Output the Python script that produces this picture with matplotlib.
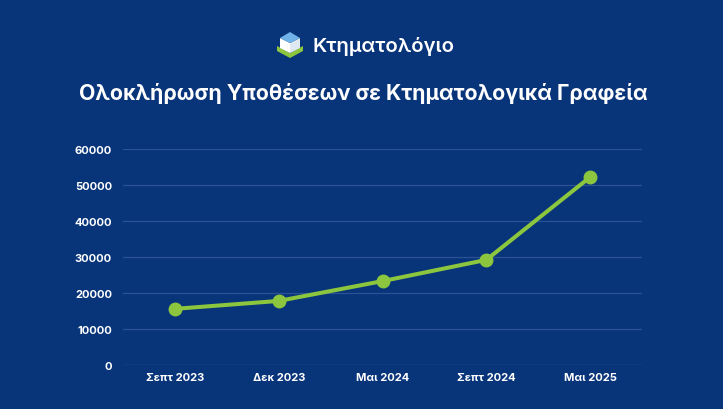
import matplotlib.pyplot as plt
from matplotlib.patches import Polygon, Rectangle

# ------------------ DATA ------------------
periods = ["Σεπτ 2023", "Δεκ 2023", "Μαι 2024", "Σεπτ 2024", "Μαι 2025"]
cases = [15600, 17800, 23300, 29200, 52200]
yticks = [0, 10000, 20000, 30000, 40000, 50000, 60000]

title = "Ολοκλήρωση Υποθέσεων σε Κτηματολογικά Γραφεία"
brand = "Κτηματολόγιο"

bg = "#08347a"
green = "#8cc63f"
grid = "#2b5394"

plt.rcParams['font.family'] = ['Inter', 'Open Sans', 'DejaVu Sans']

fig = plt.figure(figsize=(7.26, 4.10), dpi=100, facecolor=bg)
W, H = 726, 410

# thin white strip on the right edge
fig.patches.append(Rectangle((723 / W, 0), 3 / W, 1, transform=fig.transFigure,
                             facecolor="white", edgecolor="none", zorder=5))

# -------- LOGO --------
def fp(x, y):
    return (x / W, 1 - y / H)

icon = [
    ([fp(277, 47), fp(290, 54), fp(303, 47), fp(303, 52), fp(290, 59), fp(277, 52)], green),
    ([fp(280, 39), fp(290, 44), fp(290, 54), fp(280, 49)], "#ffffff"),
    ([fp(290, 44), fp(300, 39), fp(300, 49), fp(290, 54)], "#dfe8f3"),
    ([fp(280, 39), fp(290, 33), fp(300, 39), fp(290, 44)], "#6fb3e8"),
]
for pts, c in icon:
    fig.patches.append(Polygon(pts, closed=True, transform=fig.transFigure,
                               facecolor=c, edgecolor="none"))

fig.text(313 / W, 1 - 46 / H, brand, color="white", fontsize=14.6,
         fontweight="semibold", ha="left", va="center")

fig.text(0.5, 1 - 93.5 / H, title, color="white", fontsize=15.3,
         fontweight="bold", ha="center", va="center")

# -------- CHART --------
ax = fig.add_axes([123 / W, 1 - 366 / H, (642 - 123) / W, (366 - 150) / H])
ax.set_facecolor(bg)

x = range(len(periods))
ax.plot(x, cases, color=green, linewidth=2.9, marker="o", markersize=9,
        zorder=3, clip_on=False)

ax.set_xlim(-0.5, len(periods) - 0.5)
ax.set_ylim(0, 60000)
ax.set_yticks(yticks)
ax.set_yticklabels([str(v) for v in yticks])
ax.set_xticks(list(x))
ax.set_xticklabels(periods)

for v in yticks:
    ax.axhline(v, color=grid if v else "#3d6aa8", linewidth=0.9, zorder=1)

for s in ax.spines.values():
    s.set_visible(False)
ax.tick_params(length=0, colors="white", labelsize=8)
ax.tick_params(axis="y", pad=8)
ax.tick_params(axis="x", pad=5)
for lbl in ax.get_xticklabels() + ax.get_yticklabels():
    lbl.set_fontweight("bold")

fig.savefig("out.png", dpi=100, facecolor=bg)
